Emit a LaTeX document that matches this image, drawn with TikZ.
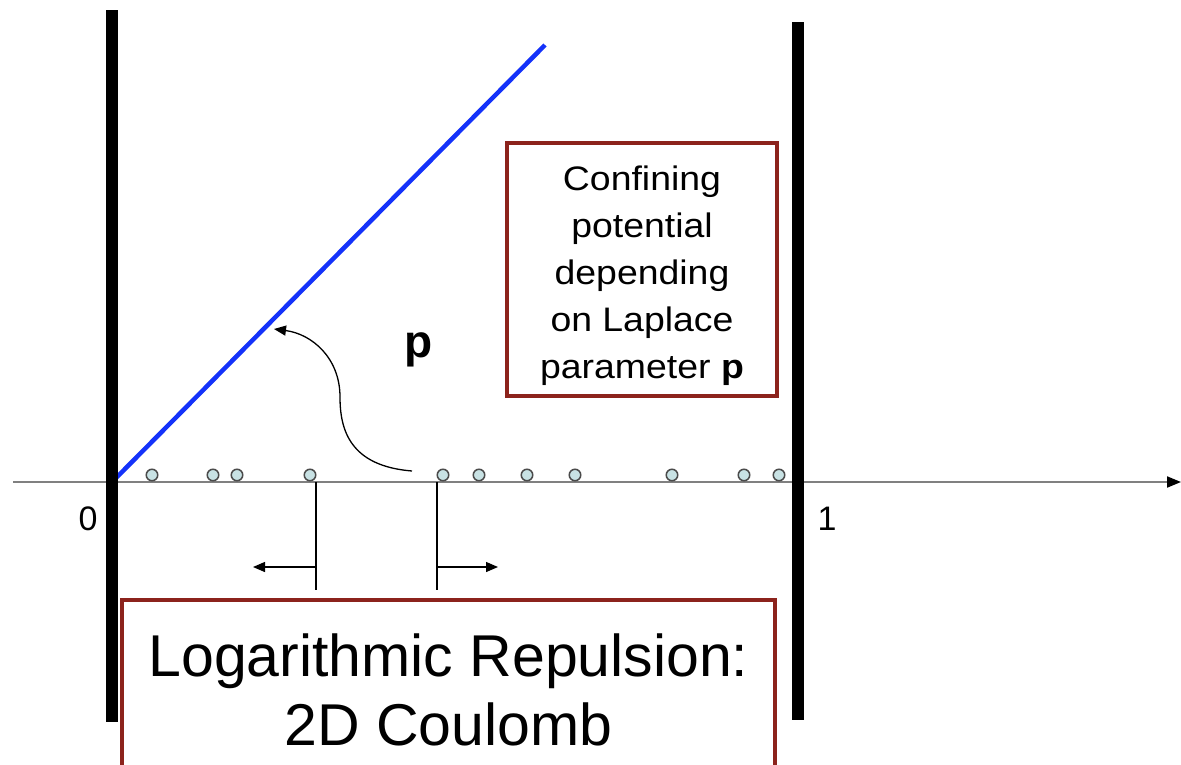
\documentclass[tikz,border=0pt]{standalone}
\usepackage{fontspec}
\setmainfont{Liberation Sans}
\newfontfamily\widesans[FakeStretch=1.1]{Liberation Sans}
\usetikzlibrary{arrows.meta}
\definecolor{boxred}{RGB}{140,35,28}
\definecolor{dotfill}{RGB}{200,226,228}
\definecolor{dotline}{RGB}{75,75,75}
\definecolor{axisgray}{RGB}{128,128,128}
\definecolor{potblue}{RGB}{20,50,250}
\begin{document}
\begin{tikzpicture}[x=1pt,y=-1pt,
  wall/.style={line width=12pt},
  particle/.style={circle,draw=dotline,fill=dotfill,line width=1.5pt,minimum size=11.5pt,inner sep=0pt},
  tipblk/.style={-{Triangle[length=12pt,width=10pt]}},
  thinline/.style={line width=1.3pt,black},
  infobox/.style={draw=boxred,line width=4pt,align=center,inner sep=0pt},
  numlabel/.style={font=\fontsize{34}{40}\selectfont}
]
\useasboundingbox (0,0) rectangle (1181,764);
% walls
\coordinate (w0t) at (112,10);
\coordinate (w0b) at (112,722);
\coordinate (w1t) at (798,22);
\coordinate (w1b) at (798,720);
% axis
\coordinate (axL) at (13,482);
\coordinate (axR) at (1181,482);
\draw[axisgray,line width=2pt,-{Triangle[color=black,length=14pt,width=11pt]}] (axL) -- (axR);
% blue potential
\coordinate (bl0) at (116,478);
\coordinate (bl1) at (545,45);
\draw[potblue,line width=4.5pt] (bl0) -- (bl1);
% walls drawn over
\draw[wall] (w0t) -- (w0b);
\draw[wall] (w1t) -- (w1b);
% particles
\foreach \n/\x in {1/152,2/213,3/237,4/310,5/443,6/479,7/527,8/575,9/672,10/744,11/779}
  \node[particle] (d\n) at (\x,475) {};
% labels
\node[numlabel] (zero) at (88,519) {0};
\node[numlabel] (one) at (827,519) {1};
\node[font=\fontsize{46}{50}\selectfont\bfseries] (plab) at (419,350) {p};
% curved arrow
\coordinate (cs) at (412,471);
\coordinate (ce) at (274,329);
\draw[thinline,tipblk] (cs) .. controls (350,466) and (340,430) .. (340,397) .. controls (340,358) and (312,334) .. (ce);
% force lines
\coordinate (fa0) at (316,482);
\coordinate (fa1) at (316,590);
\coordinate (fb0) at (437,482);
\coordinate (fb1) at (437,590);
\coordinate (fam) at (316,567);
\coordinate (fae) at (253,567);
\coordinate (fbm) at (437,567);
\coordinate (fbe) at (498,567);
\draw[thinline] (fa0) -- (fa1);
\draw[thinline] (fb0) -- (fb1);
\draw[thinline,tipblk] (fam) -- (fae);
\draw[thinline,tipblk] (fbm) -- (fbe);
% boxes
\node[infobox,minimum width=270pt,minimum height=253pt] (conf) at (642,269) {};
\node[align=center,inner sep=0pt,font=\widesans\fontsize{34}{47}\selectfont] (conftext) at (642,276)
  {Confining\\potential\\depending\\on Laplace\\parameter \textbf{p}};
\node[infobox,minimum width=653pt,minimum height=180pt,font=\fontsize{59}{69}\selectfont] (coul) at (448.5,690)
  {Logarithmic Repulsion:\\2D Coulomb};
\end{tikzpicture}
\end{document}
